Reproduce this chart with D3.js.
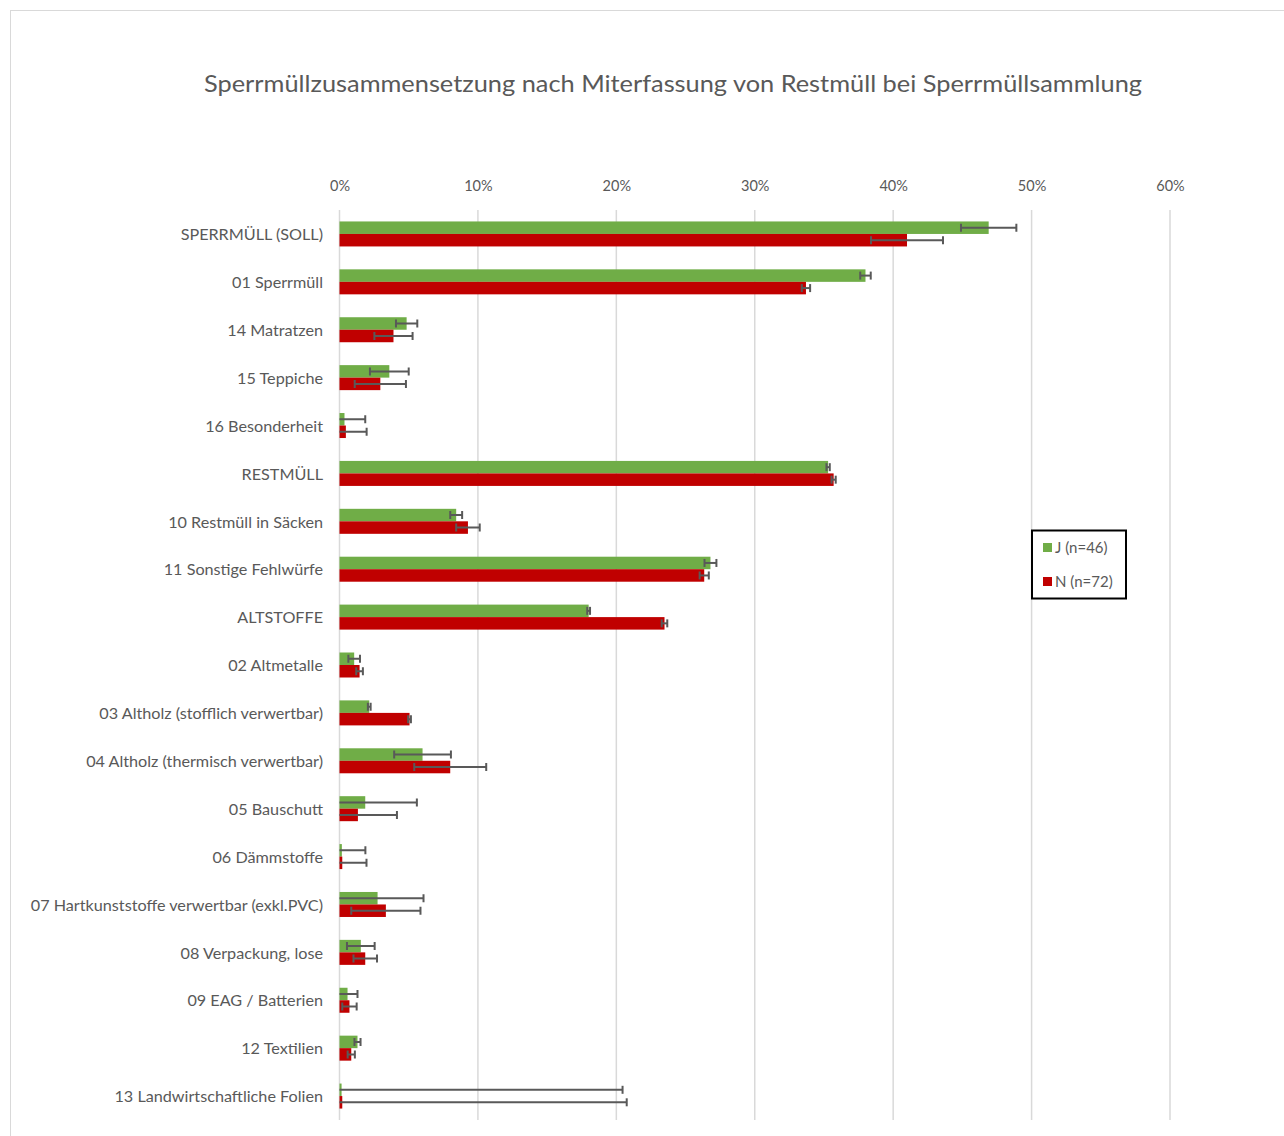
<!DOCTYPE html>
<html><head><meta charset="utf-8">
<script src="https://cdn.jsdelivr.net/npm/d3@7"></script>
<style>body{margin:0;background:#fff;} text{font-family:Lato, "Open Sans", sans-serif;}</style>
</head><body>
<svg id="c" width="1284" height="1136"></svg>
<script>
const categories = ["SPERRMÜLL (SOLL)","01 Sperrmüll","14 Matratzen","15 Teppiche","16 Besonderheit","RESTMÜLL","10 Restmüll in Säcken","11 Sonstige Fehlwürfe","ALTSTOFFE","02 Altmetalle","03 Altholz (stofflich verwertbar)","04 Altholz (thermisch verwertbar)","05 Bauschutt","06 Dämmstoffe","07 Hartkunststoffe verwertbar (exkl.PVC)","08 Verpackung, lose","09 EAG / Batterien","12 Textilien","13 Landwirtschaftliche Folien"];
const seriesNames = ["J (n=46)","N (n=72)"];
const valuesJ = [46.9,38.0,4.85,3.6,0.36,35.3,8.43,26.8,18.0,1.06,2.15,6.0,1.86,0.17,2.75,1.54,0.58,1.3,0.15];
const errorsJ = [2.0,0.38,0.77,1.4,1.5,0.12,0.43,0.43,0.1,0.42,0.1,2.05,3.73,1.7,3.32,1.0,0.72,0.22,20.3];
const valuesN = [41.0,33.7,3.9,2.95,0.46,35.7,9.28,26.35,23.48,1.45,5.06,8.0,1.33,0.2,3.35,1.86,0.72,0.85,0.2];
const errorsN = [2.6,0.3,1.38,1.85,1.5,0.15,0.85,0.33,0.2,0.24,0.1,2.6,2.82,1.75,2.5,0.85,0.52,0.26,20.55];
const ticks = [0,10,20,30,40,50,60];
const colors = ["#70ad47","#c00000"];

const svg = d3.select("#c");
svg.append("rect").attr("x",10.5).attr("y",10.5).attr("width",1290).attr("height",1140)
  .attr("fill","#fff").attr("stroke","#d9d9d9");

svg.append("text").attr("x",204).attr("y",92)
  .attr("font-size",23).attr("fill","#595959")
  .attr("textLength",938).attr("lengthAdjust","spacingAndGlyphs")
  .text("Sperrmüllzusammensetzung  nach Miterfassung von Restmüll bei Sperrmüllsammlung");

const x = d3.scaleLinear().domain([0,60]).range([339.5,1170]);
const y = d3.scaleBand().domain(categories).range([210,1120]);
const sub = d3.scaleBand().domain([0,1]).range([-12.5,12.5]);

// gridlines
svg.append("g").selectAll("line").data(ticks).join("line")
  .attr("x1",d=>x(d)).attr("x2",d=>x(d)).attr("y1",210).attr("y2",1120)
  .attr("stroke","#d9d9d9").attr("stroke-width",1.5);

// top axis labels
const ax = svg.append("g").attr("transform","translate(0,194)")
  .call(d3.axisTop(x).tickValues(ticks).tickFormat(d=>d+"%").tickSize(0));
ax.select(".domain").remove();
ax.selectAll("text").attr("font-size",14.5).attr("fill","#595959").attr("font-family","Lato, 'Open Sans', sans-serif");

// category labels
const ay = svg.append("g").attr("transform","translate(331,1)")
  .call(d3.axisLeft(y).tickSize(0).tickPadding(8));
ay.select(".domain").remove();
ay.selectAll("text").attr("font-size",16.2).attr("fill","#595959").attr("font-family","Lato, 'Open Sans', sans-serif");

const data = [valuesJ, valuesN].map((vals,s)=>vals.map((v,i)=>({cat:categories[i], v, e:[errorsJ,errorsN][s][i], s})));

svg.append("defs").append("clipPath").attr("id","clip").append("rect")
  .attr("x",x(0)).attr("y",200).attr("width",950).attr("height",940);

const g = svg.append("g");
data.forEach((arr,s)=>{
  g.selectAll(".bar"+s).data(arr).join("rect")
    .attr("x",x(0)).attr("y",d=>y(d.cat)+y.bandwidth()/2+sub(s))
    .attr("width",d=>x(d.v)-x(0)).attr("height",sub.bandwidth())
    .attr("fill",colors[s]);
});
const eg = svg.append("g").attr("clip-path","url(#clip)").attr("stroke","#595959").attr("stroke-width",2);
data.forEach((arr,s)=>{
  arr.forEach(d=>{
    const cy = y(d.cat)+y.bandwidth()/2+sub(s)+sub.bandwidth()/2;
    const x1 = x(d.v-d.e), x2 = x(d.v+d.e);
    eg.append("line").attr("x1",x1).attr("x2",x2).attr("y1",cy).attr("y2",cy);
    eg.append("line").attr("x1",x1).attr("x2",x1).attr("y1",cy-4).attr("y2",cy+4);
    eg.append("line").attr("x1",x2).attr("x2",x2).attr("y1",cy-4).attr("y2",cy+4);
  });
});

// legend
const lg = svg.append("g");
lg.append("rect").attr("x",1032).attr("y",530.5).attr("width",94).attr("height",68)
  .attr("fill","#fff").attr("stroke","#000").attr("stroke-width",2);
seriesNames.forEach((n,i)=>{
  lg.append("rect").attr("x",1043).attr("y",543+i*34).attr("width",9).attr("height",9).attr("fill",colors[i]);
  lg.append("text").attr("x",1055).attr("y",553+i*34).attr("font-size",15).attr("fill","#595959").text(n);
});
</script>
</body></html>
